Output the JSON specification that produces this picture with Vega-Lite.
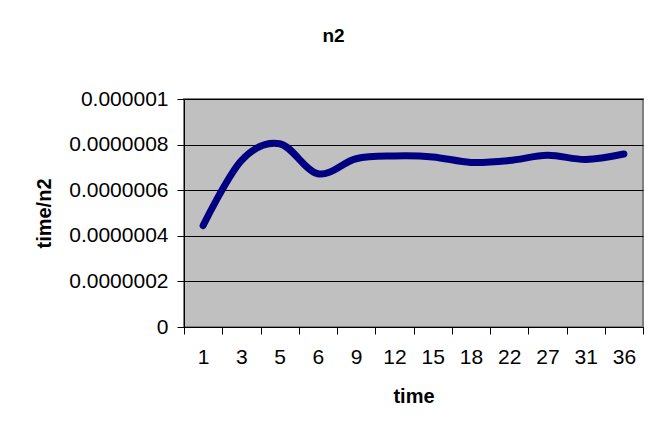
{
  "$schema": "https://vega.github.io/schema/vega-lite/v6.json",
  "width": 459,
  "height": 228,
  "autosize": {"type": "none"},
  "padding": {"left": 184, "top": 99, "right": 15, "bottom": 112},
  "background": "white",
  "title": {
    "text": "n2",
    "font": "Liberation Sans",
    "fontSize": 19,
    "fontWeight": "bold",
    "color": "black",
    "anchor": "middle",
    "frame": "group",
    "dx": -80,
    "offset": 42
  },
  "data": {
    "values": [
      {"time": "1", "ratio": 4.45e-7},
      {"time": "3", "ratio": 7.3e-7},
      {"time": "5", "ratio": 8.04e-7},
      {"time": "6", "ratio": 6.72e-7},
      {"time": "9", "ratio": 7.38e-7},
      {"time": "12", "ratio": 7.5e-7},
      {"time": "15", "ratio": 7.46e-7},
      {"time": "18", "ratio": 7.22e-7},
      {"time": "22", "ratio": 7.3e-7},
      {"time": "27", "ratio": 7.53e-7},
      {"time": "31", "ratio": 7.35e-7},
      {"time": "36", "ratio": 7.59e-7}
    ]
  },
  "mark": {
    "type": "line",
    "color": "#000080",
    "strokeWidth": 7,
    "strokeCap": "round",
    "strokeJoin": "round",
    "interpolate": "cardinal",
    "tension": 0
  },
  "encoding": {
    "x": {
      "field": "time",
      "type": "ordinal",
      "sort": null,
      "scale": {"type": "band", "paddingInner": 0, "paddingOuter": 0},
      "axis": {
        "title": "time",
        "labelAngle": 0,
        "tickBand": "extent",
        "grid": false,
        "labelPadding": 12,
        "titlePadding": 19
      }
    },
    "y": {
      "field": "ratio",
      "type": "quantitative",
      "scale": {"domain": [0, 1e-6], "nice": false},
      "axis": {
        "title": "time/n2",
        "values": [0, 2e-7, 4e-7, 6e-7, 8e-7, 1e-6],
        "format": ".7~f",
        "grid": true,
        "gridColor": "#000000",
        "gridWidth": 1,
        "labelPadding": 9,
        "titlePadding": 14
      }
    }
  },
  "config": {
    "font": "Liberation Sans",
    "view": {"fill": "#C0C0C0", "stroke": "#808080", "strokeWidth": 2},
    "axis": {
      "labelFont": "Liberation Sans",
      "labelFontSize": 21,
      "labelColor": "black",
      "titleFont": "Liberation Sans",
      "titleFontSize": 20,
      "titleFontWeight": "bold",
      "titleColor": "black",
      "domainColor": "black",
      "domainWidth": 1,
      "tickColor": "black",
      "tickSize": 7,
      "tickWidth": 1
    }
  }
}
